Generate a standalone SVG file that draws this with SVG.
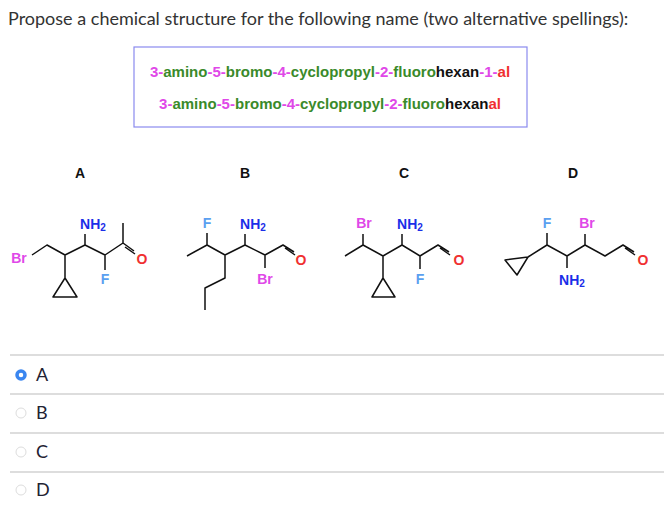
<svg xmlns="http://www.w3.org/2000/svg" width="664" height="512" viewBox="0 0 664 512">
<style>
.b{stroke:#111;stroke-width:1.5;fill:none;stroke-linejoin:round}
.t{font-family:"Liberation Sans",Arial,sans-serif;font-size:14px;font-weight:bold;text-anchor:middle}
.nm{font-family:"Liberation Sans",Arial,sans-serif;font-size:15px;font-weight:bold;text-anchor:middle;fill:#3a8a2a}
.N{fill:#1a2ee8}.F{fill:#5aa0f0}.Br{fill:#e048e8}.O{fill:#f03030}
.p{fill:#e048e8}.k{fill:#111}.r{fill:#f03030}
.L{font-family:"Liberation Sans",Arial,sans-serif;font-size:14px;font-weight:bold;text-anchor:middle;fill:#111}
.o{font-family:Lato,"Open Sans",sans-serif;font-size:18px;fill:#223}
.sep{stroke:#ddd;stroke-width:2}
</style>
<rect width="664" height="512" fill="#fff"/>
<text x="8" y="25" font-family="Lato,'Open Sans',sans-serif" font-size="18" fill="#333">Propose a chemical structure for the following name (two alternative spellings):</text>
<rect x="134" y="47" width="393" height="80" fill="#fff" stroke="#8a8aee" stroke-width="1.2"/>
<text class="nm" x="330" y="77"><tspan class="p">3-</tspan>amino<tspan class="p">-5-</tspan>bromo<tspan class="p">-4-</tspan>cyclopropyl<tspan class="p">-2-</tspan>fluoro<tspan class="k">hexan</tspan><tspan class="p">-1-</tspan><tspan class="r">al</tspan></text>
<text class="nm" x="330" y="109"><tspan class="p">3-</tspan>amino<tspan class="p">-5-</tspan>bromo<tspan class="p">-4-</tspan>cyclopropyl<tspan class="p">-2-</tspan>fluoro<tspan class="k">hexan</tspan><tspan class="r">al</tspan></text>
<text class="L" x="80" y="178">A</text><text class="L" x="245" y="178">B</text><text class="L" x="404" y="178">C</text><text class="L" x="573" y="178">D</text>
<g id="molA">
<path class="b" d="M32,255 L47,245 L65,255 L85,245 L105,255 L123,243 M123,243 L123,223 M85,245 L85,234 M105,255 L105,270 M65,255 L65,278 M65,278 L53,297 L77,297 Z M123,243 L134,251 M125,247 L135,254"/>
<text class="t Br" x="19" y="263">Br</text><text class="t N" x="93" y="229">NH<tspan font-size="10" dy="2">2</tspan></text>
<text class="t F" x="105" y="284">F</text><text class="t O" x="142" y="264">O</text>
</g>
<g id="molB">
<path class="b" d="M187,256 L207,245 L225,255 L245,245 L265,255 L283,245 L294,252 M285,248 L295,255 M207,245 L207,233 M245,245 L245,234 M265,255 L265,268 M225,255 L225,278 L205,288 L205,310"/>
<text class="t F" x="207" y="228">F</text><text class="t N" x="253" y="229">NH<tspan font-size="10" dy="2">2</tspan></text>
<text class="t Br" x="265" y="284">Br</text><text class="t O" x="301" y="265">O</text>
</g>
<g id="molC">
<path class="b" d="M345,256 L363,245 L383,256 L402,245 L420,256 L438,245 L449,252 M440,248 L450,255 M363,245 L363,234 M402,245 L402,234 M420,256 L420,269 M383,256 L383,278 M383,278 L372,297 L395,297 Z"/>
<text class="t Br" x="364" y="228">Br</text><text class="t N" x="410" y="229">NH<tspan font-size="10" dy="2">2</tspan></text>
<text class="t F" x="420" y="284">F</text><text class="t O" x="459" y="265">O</text>
</g>
<g id="molD">
<path class="b" d="M505,260 L528,257 L517,275 Z M528,257 L547,245 L567,256 L585,245 L605,256 L623,245 L634,252 M625,248 L635,255 M547,245 L547,233 M585,245 L585,234 M567,256 L567,268"/>
<text class="t F" x="547" y="228">F</text><text class="t Br" x="587" y="228">Br</text>
<text class="t N" x="572" y="285">NH<tspan font-size="10" dy="2">2</tspan></text><text class="t O" x="643" y="265">O</text>
</g>
<g id="options">
<line class="sep" x1="10" y1="355" x2="664" y2="355"/><line class="sep" x1="10" y1="394" x2="664" y2="394"/>
<line class="sep" x1="10" y1="433" x2="664" y2="433"/><line class="sep" x1="10" y1="472" x2="664" y2="472"/>
<circle cx="21" cy="375" r="4" fill="#fff" stroke="#3a86f0" stroke-width="3.5"/>
<circle cx="21" cy="413" r="5" fill="#fff" stroke="#ddd"/>
<circle cx="21" cy="452" r="5" fill="#fff" stroke="#ddd"/>
<circle cx="21" cy="490" r="5" fill="#fff" stroke="#ddd"/>
<text class="o" x="36" y="381">A</text><text class="o" x="36" y="419">B</text><text class="o" x="36" y="458">C</text><text class="o" x="36" y="496">D</text>
</g>
</svg>
